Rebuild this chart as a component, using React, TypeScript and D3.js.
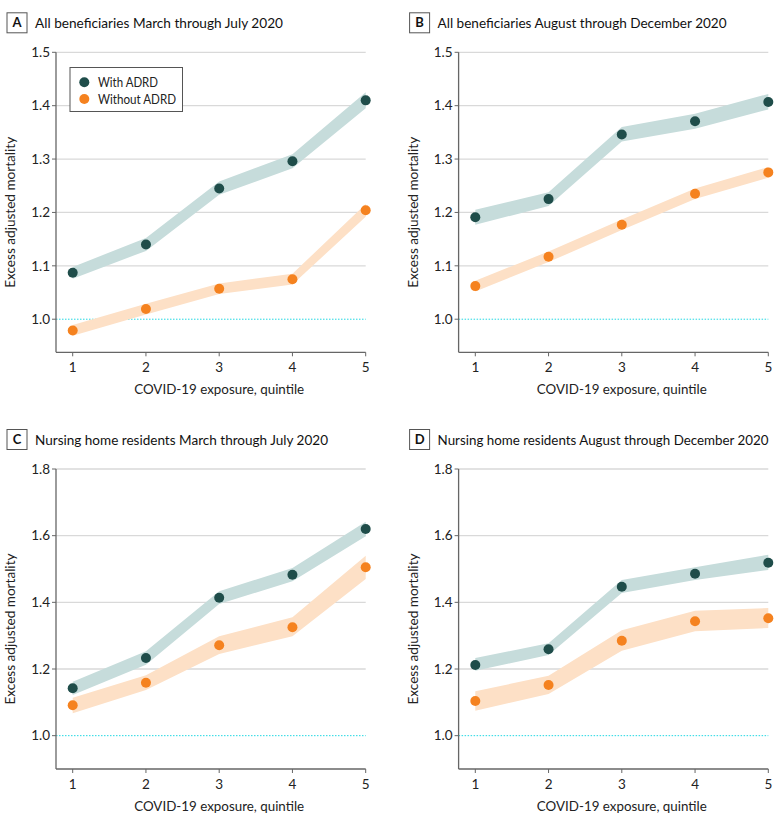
import React from 'react';
import * as d3 from 'd3';

// quintiles of COVID-19 exposure
const quintiles = [1, 2, 3, 4, 5];

// A: all beneficiaries, March-July 2020
const aWith = [1.087, 1.14, 1.245, 1.296, 1.41];
const aWithLo = [1.076, 1.128, 1.233, 1.283, 1.395];
const aWithHi = [1.098, 1.152, 1.258, 1.309, 1.425];
const aWithout = [0.979, 1.019, 1.057, 1.075, 1.204];
const aWithoutLo = [0.969, 1.009, 1.047, 1.065, 1.192];
const aWithoutHi = [0.989, 1.029, 1.067, 1.085, 1.216];

// B: all beneficiaries, August-December 2020
const bWith = [1.191, 1.225, 1.346, 1.371, 1.407];
const bWithLo = [1.177, 1.212, 1.333, 1.357, 1.393];
const bWithHi = [1.205, 1.238, 1.36, 1.385, 1.422];
const bWithout = [1.062, 1.117, 1.177, 1.235, 1.275];
const bWithoutLo = [1.052, 1.107, 1.167, 1.225, 1.265];
const bWithoutHi = [1.072, 1.127, 1.187, 1.245, 1.285];

// C: nursing home residents, March-July 2020
const cWith = [1.142, 1.233, 1.414, 1.483, 1.62];
const cWithLo = [1.122, 1.213, 1.395, 1.463, 1.598];
const cWithHi = [1.162, 1.253, 1.433, 1.503, 1.642];
const cWithout = [1.091, 1.159, 1.271, 1.325, 1.505];
const cWithoutLo = [1.067, 1.137, 1.245, 1.298, 1.47];
const cWithoutHi = [1.114, 1.181, 1.298, 1.355, 1.54];

// D: nursing home residents, August-December 2020
const dWith = [1.212, 1.259, 1.447, 1.486, 1.519];
const dWithLo = [1.195, 1.242, 1.428, 1.467, 1.497];
const dWithHi = [1.233, 1.277, 1.467, 1.505, 1.543];
const dWithout = [1.104, 1.152, 1.285, 1.343, 1.352];
const dWithoutLo = [1.075, 1.125, 1.255, 1.313, 1.323];
const dWithoutHi = [1.133, 1.18, 1.316, 1.375, 1.383];

const topTicks = [1.0, 1.1, 1.2, 1.3, 1.4, 1.5];
const bottomTicks = [1.0, 1.2, 1.4, 1.6, 1.8];

const FONT = 'Lato, "Open Sans", sans-serif';
const DARK = '#1f4d4a';
const DARK_BAND = '#c6dcdb';
const ORANGE = '#f5821f';
const ORANGE_BAND = '#fde0c6';

type Series = { v: number[]; lo: number[]; hi: number[] };

interface PanelProps {
  letter: string;
  title: string;
  titleWidth: number;
  left: number; // x of quintile 1
  top: number; // y of top of plot
  domain: [number, number];
  ticks: number[];
  withAdrd: Series;
  withoutAdrd: Series;
  legend?: boolean;
}

const Panel = ({ letter, title, titleWidth, left, top, domain, ticks, withAdrd, withoutAdrd, legend }: PanelProps) => {
  const plotH = 300;
  const x = d3.scaleLinear().domain([1, 5]).range([left, left + 293]);
  const y = d3.scaleLinear().domain(domain).range([top + plotH, top]);
  const axisX = left - 16.7;
  const bottom = top + plotH;

  const area = (s: Series) =>
    d3.area<number>()
      .x((_, i) => x(quintiles[i]))
      .y0((_, i) => y(s.lo[i]))
      .y1((_, i) => y(s.hi[i]))(s.v) as string;

  const fmt = d3.format('.1f');

  return (
    <g>
      {/* title */}
      <rect x={axisX - 49} y={top - 39.5} width={20} height={20} fill="white" stroke="#555" strokeWidth={1} />
      <text x={axisX - 39} y={top - 25} textAnchor="middle" fontSize={13} fontWeight="bold" fill="#111">{letter}</text>
      <text
        x={axisX - 21}
        y={top - 24.5}
        fontSize={13.5}
        fill="#111"
        textLength={titleWidth}
        lengthAdjust="spacingAndGlyphs"
      >{title}</text>

      {/* grid */}
      {ticks.filter(t => t !== 1.0).map(t => (
        <line key={t} x1={axisX} x2={x(5)} y1={y(t)} y2={y(t)} stroke="#d9d9d9" strokeWidth={1.3} />
      ))}
      <line x1={axisX} x2={x(5)} y1={y(1)} y2={y(1)} stroke="#22d8e3" strokeWidth={1} strokeDasharray="1.5,1.5" />

      {/* bands */}
      <path d={area(withAdrd)} fill={DARK_BAND} />
      <path d={area(withoutAdrd)} fill={ORANGE_BAND} />

      {/* points */}
      {withAdrd.v.map((v, i) => (
        <circle key={'w' + i} cx={x(quintiles[i])} cy={y(v)} r={5} fill={DARK} />
      ))}
      {withoutAdrd.v.map((v, i) => (
        <circle key={'o' + i} cx={x(quintiles[i])} cy={y(v)} r={5} fill={ORANGE} />
      ))}

      {/* y axis */}
      <line x1={axisX} x2={axisX} y1={top} y2={bottom} stroke="#666" strokeWidth={1.3} />
      {ticks.map(t => (
        <g key={t}>
          <line x1={axisX - 4} x2={axisX} y1={y(t)} y2={y(t)} stroke="#666" strokeWidth={1} />
          <text x={axisX - 6} y={y(t)} dy="0.35em" textAnchor="end" fontSize={13.5} fill="#222">{fmt(t)}</text>
        </g>
      ))}
      <text
        transform={`translate(${axisX - 41},${top + plotH / 2 + 10}) rotate(-90)`}
        textAnchor="middle"
        fontSize={14}
        fill="#222"
        textLength={151}
        lengthAdjust="spacingAndGlyphs"
      >Excess adjusted mortality</text>

      {/* x axis */}
      <line x1={axisX} x2={x(5)} y1={bottom} y2={bottom} stroke="#666" strokeWidth={1.3} />
      {quintiles.map(q => (
        <g key={q}>
          <line x1={x(q)} x2={x(q)} y1={bottom} y2={bottom + 4} stroke="#666" strokeWidth={1} />
          <text x={x(q)} y={bottom + 15} dy="0.35em" textAnchor="middle" fontSize={13.5} fill="#222">{q}</text>
        </g>
      ))}
      <text
        x={(x(1) + x(5)) / 2}
        y={bottom + 37}
        dy="0.35em"
        textAnchor="middle"
        fontSize={14}
        fill="#222"
        textLength={170}
        lengthAdjust="spacingAndGlyphs"
      >COVID-19 exposure, quintile</text>

      {legend && (
        <g>
          <rect x={70} y={67.5} width={112.5} height={44} fill="white" stroke="#555" strokeWidth={1} />
          <circle cx={84.3} cy={82.3} r={5} fill={DARK} />
          <text x={98} y={82.3} dy="0.35em" fontSize={13.5} fill="#222" textLength={60} lengthAdjust="spacingAndGlyphs">With ADRD</text>
          <circle cx={84.3} cy={99} r={5} fill={ORANGE} />
          <text x={98} y={99} dy="0.35em" fontSize={13.5} fill="#222" textLength={78} lengthAdjust="spacingAndGlyphs">Without ADRD</text>
        </g>
      )}
    </g>
  );
};

export default function App() {
  return (
    <svg
      width={780}
      height={823}
      style={{ position: 'absolute', left: 0, top: 0, display: 'block', background: 'white', fontFamily: FONT }}
    >
      <Panel
        letter="A"
        title="All beneficiaries March through July 2020"
        titleWidth={248}
        left={72.7}
        top={52.3}
        domain={[0.938, 1.5]}
        ticks={topTicks}
        withAdrd={{ v: aWith, lo: aWithLo, hi: aWithHi }}
        withoutAdrd={{ v: aWithout, lo: aWithoutLo, hi: aWithoutHi }}
        legend
      />
      <Panel
        letter="B"
        title="All beneficiaries August through December 2020"
        titleWidth={289}
        left={475.3}
        top={52.3}
        domain={[0.938, 1.5]}
        ticks={topTicks}
        withAdrd={{ v: bWith, lo: bWithLo, hi: bWithHi }}
        withoutAdrd={{ v: bWithout, lo: bWithoutLo, hi: bWithoutHi }}
      />
      <Panel
        letter="C"
        title="Nursing home residents March through July 2020"
        titleWidth={293}
        left={72.7}
        top={469}
        domain={[0.9, 1.8]}
        ticks={bottomTicks}
        withAdrd={{ v: cWith, lo: cWithLo, hi: cWithHi }}
        withoutAdrd={{ v: cWithout, lo: cWithoutLo, hi: cWithoutHi }}
      />
      <Panel
        letter="D"
        title="Nursing home residents August through December 2020"
        titleWidth={331}
        left={475.3}
        top={469}
        domain={[0.9, 1.8]}
        ticks={bottomTicks}
        withAdrd={{ v: dWith, lo: dWithLo, hi: dWithHi }}
        withoutAdrd={{ v: dWithout, lo: dWithoutLo, hi: dWithoutHi }}
      />
    </svg>
  );
}
